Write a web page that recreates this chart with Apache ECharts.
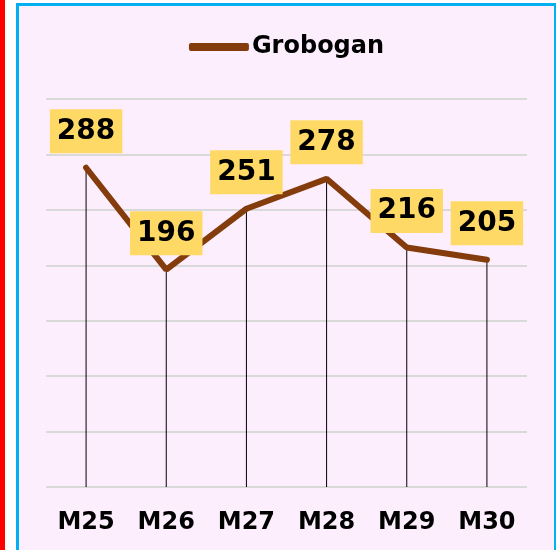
<!DOCTYPE html>
<html>
<head>
<meta charset="utf-8">
<script src="https://cdn.jsdelivr.net/npm/echarts@6/dist/echarts.min.js"></script>
<style>
  html, body { margin: 0; padding: 0; background: #fff; width: 556px; height: 550px; overflow: hidden; }
  .red-bar { position: absolute; left: 0; top: 0; width: 5px; height: 550px; background: #ff0000; }
  .box {
    position: absolute; left: 16px; top: 3px; width: 535px; height: 560px;
    border-left: 3px solid #00b0f0; border-top: 3px solid #00b0f0; border-right: 2px solid #00b0f0;
    background: #fdeefd;
  }
  #chart { width: 535px; height: 544px; }
</style>
</head>
<body>
<div class="red-bar"></div>
<div class="box"><div id="chart"></div></div>
<script>
// 数据
const categories = ['M25', 'M26', 'M27', 'M28', 'M29', 'M30'];
const grobogan = [288, 196, 251, 278, 216, 205];
const seriesName = 'Grobogan';

const chart = echarts.init(document.getElementById('chart'), null, { renderer: 'canvas' });
const font = 'DejaVu Sans';

const option = {
  animation: false,
  legend: {
    data: [seriesName],
    top: 24,
    left: 'center',
    icon: 'roundRect',
    itemWidth: 60,
    itemHeight: 8,
    itemStyle: { color: '#843c0c' },
    textStyle: { fontFamily: font, fontWeight: 'bold', fontSize: 24, color: '#000', padding: [0, 0, 0, -2] }
  },
  grid: { left: 27, right: 27, top: 93, height: 388 },
  xAxis: {
    type: 'category',
    data: categories,
    boundaryGap: true,
    axisLine: { show: false },
    axisTick: { show: false },
    axisLabel: { margin: 24, fontFamily: font, fontWeight: 'bold', fontSize: 24, color: '#000' }
  },
  yAxis: {
    type: 'value',
    min: 0,
    max: 350,
    interval: 50,
    axisLabel: { show: false },
    axisLine: { show: false },
    axisTick: { show: false },
    splitLine: { lineStyle: { color: '#d9d9d9', width: 2 } }
  },
  series: [
    {
      // 垂直线（drop lines）
      type: 'bar',
      name: 'drop',
      data: grobogan,
      barWidth: 1,
      silent: true,
      z: 1,
      itemStyle: { color: '#000' }
    },
    {
      type: 'line',
      name: seriesName,
      data: grobogan,
      symbol: 'circle',
      symbolSize: 1,
      showSymbol: true,
      z: 3,
      lineStyle: { color: '#843c0c', width: 6, cap: 'round' },
      itemStyle: { color: '#843c0c' },
      label: {
        show: true,
        position: 'top',
        distance: 14,
        fontFamily: font,
        fontWeight: 'bold',
        fontSize: 28,
        lineHeight: 28,
        color: '#000',
        backgroundColor: '#ffd966',
        padding: [8, 7]
      }
    }
  ]
};
chart.setOption(option);
</script>
</body>
</html>
